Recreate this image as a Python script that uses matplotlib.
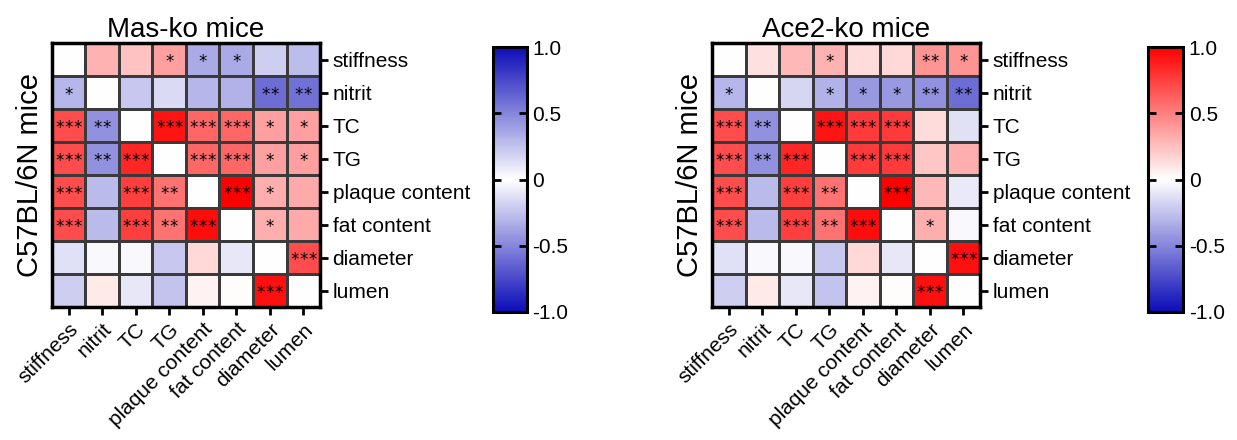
import numpy as np
import matplotlib
matplotlib.use("Agg")
import matplotlib.pyplot as plt
from matplotlib.colors import LinearSegmentedColormap, Normalize
from matplotlib.cm import ScalarMappable

plt.rcParams['font.family'] = ['Liberation Sans', 'DejaVu Sans']

labels = ['stiffness', 'nitrit', 'TC', 'TG', 'plaque content', 'fat content', 'diameter', 'lumen']

# lower triangle: C57BL/6N mice (row i, columns 0..i-1)
c57_r = [
    [],
    [-0.30],
    [0.70, -0.45],
    [0.70, -0.45, 0.85],
    [0.70, -0.28, 0.75, 0.55],
    [0.70, -0.28, 0.75, 0.55, 0.95],
    [-0.13, -0.03, -0.03, -0.23, 0.15, -0.10],
    [-0.20, 0.08, -0.10, -0.25, 0.05, 0.01, 0.93],
]
c57_p = [
    [],
    ['*'],
    ['***', '**'],
    ['***', '**', '***'],
    ['***', '', '***', '**'],
    ['***', '', '***', '**', '***'],
    ['', '', '', '', '', ''],
    ['', '', '', '', '', '', '***'],
]

# upper triangle: knockout mice (row i, columns i+1..7)
masko_r = [
    [0.30, 0.24, 0.37, -0.35, -0.35, -0.20, -0.27],
    [-0.23, -0.15, -0.30, -0.32, -0.60, -0.58],
    [0.92, 0.60, 0.60, 0.37, 0.37],
    [0.60, 0.60, 0.37, 0.37],
    [1.00, 0.32, 0.33],
    [0.32, 0.33],
    [0.70],
    [],
]
masko_p = [
    ['', '', '*', '*', '*', '', ''],
    ['', '', '', '', '**', '**'],
    ['***', '***', '***', '*', '*'],
    ['***', '***', '*', '*'],
    ['***', '*', ''],
    ['*', ''],
    ['***'],
    [],
]
ace2ko_r = [
    [0.12, 0.28, 0.30, 0.14, 0.15, 0.42, 0.42],
    [-0.17, -0.32, -0.42, -0.42, -0.45, -0.60],
    [0.92, 0.77, 0.77, 0.14, -0.12],
    [0.77, 0.77, 0.22, 0.32],
    [1.00, 0.28, -0.09],
    [0.32, -0.03],
    [0.93],
    [],
]
ace2ko_p = [
    ['', '', '*', '', '', '**', '*'],
    ['', '*', '*', '*', '**', '**'],
    ['***', '***', '***', '', ''],
    ['***', '***', '', ''],
    ['***', '', ''],
    ['*', ''],
    ['***'],
    [],
]

cmap = LinearSegmentedColormap.from_list('bwr2', ['#0c0cb8', '#ffffff', '#ff0000'])
cmap_left_bar = LinearSegmentedColormap.from_list('bwb', ['#0c0cb8', '#ffffff', '#0c0cb8'])
norm = Normalize(-1, 1)


def build(lower, upper, lp, up):
    n = len(labels)
    m = np.zeros((n, n))
    s = [['' for _ in range(n)] for _ in range(n)]
    for i in range(n):
        for j, v in enumerate(lower[i]):
            m[i, j] = v
            s[i][j] = lp[i][j]
        for k, v in enumerate(upper[i]):
            m[i, i + 1 + k] = v
            s[i][i + 1 + k] = up[i][k]
    return m, s


def draw(ax, cax, m, s, title, bar_cmap):
    n = len(labels)
    ax.pcolormesh(np.arange(n + 1), np.arange(n + 1), m, cmap=cmap, norm=norm,
                  edgecolors='#3a3a3a', linewidth=0.9)
    for i in range(n):
        for j in range(n):
            k = len(s[i][j])
            for q in range(k):
                ax.text(j + 0.5 + (q - (k - 1) / 2) * 0.27, i + 0.58, '*',
                        ha='center', va='center', fontsize=12, color='black',
                        family='DejaVu Sans')
    ax.set_xlim(0, n)
    ax.set_ylim(n, 0)
    ax.set_xticks(np.arange(n) + 0.5)
    ax.set_yticks(np.arange(n) + 0.5)
    ax.set_xticklabels(labels, rotation=45, ha='right', rotation_mode='anchor', fontsize=15)
    ax.set_yticklabels(labels, fontsize=15)
    ax.yaxis.tick_right()
    ax.tick_params(direction='out', length=6, width=2, pad=3)
    for sp in ax.spines.values():
        sp.set_linewidth(2.5)
    ax.set_ylabel('C57BL/6N mice', fontsize=21, labelpad=6)
    ax.set_title(title, fontsize=20, pad=4)

    cb = plt.colorbar(ScalarMappable(norm=norm, cmap=bar_cmap), cax=cax)
    cb.set_ticks([-1, -0.5, 0, 0.5, 1])
    cb.set_ticklabels(['-1.0', '-0.5', '0', '0.5', '1.0'])
    cb.outline.set_linewidth(2.2)
    cax.tick_params(direction='in', length=6, width=2, left=True, right=True,
                    labelsize=15, pad=4)


fig = plt.figure(figsize=(12.37, 4.40), dpi=100)
ax1 = fig.add_axes([0.042, 0.302, 0.2167, 0.6])
cax1 = fig.add_axes([0.3985, 0.291, 0.0275, 0.602])
ax2 = fig.add_axes([0.5756, 0.302, 0.2167, 0.6])
cax2 = fig.add_axes([0.928, 0.291, 0.0285, 0.602])

m1, s1 = build(c57_r, masko_r, c57_p, masko_p)
m2, s2 = build(c57_r, ace2ko_r, c57_p, ace2ko_p)
draw(ax1, cax1, m1, s1, 'Mas-ko mice', cmap_left_bar)
draw(ax2, cax2, m2, s2, 'Ace2-ko mice', cmap)

fig.savefig('out.png', dpi=100)
